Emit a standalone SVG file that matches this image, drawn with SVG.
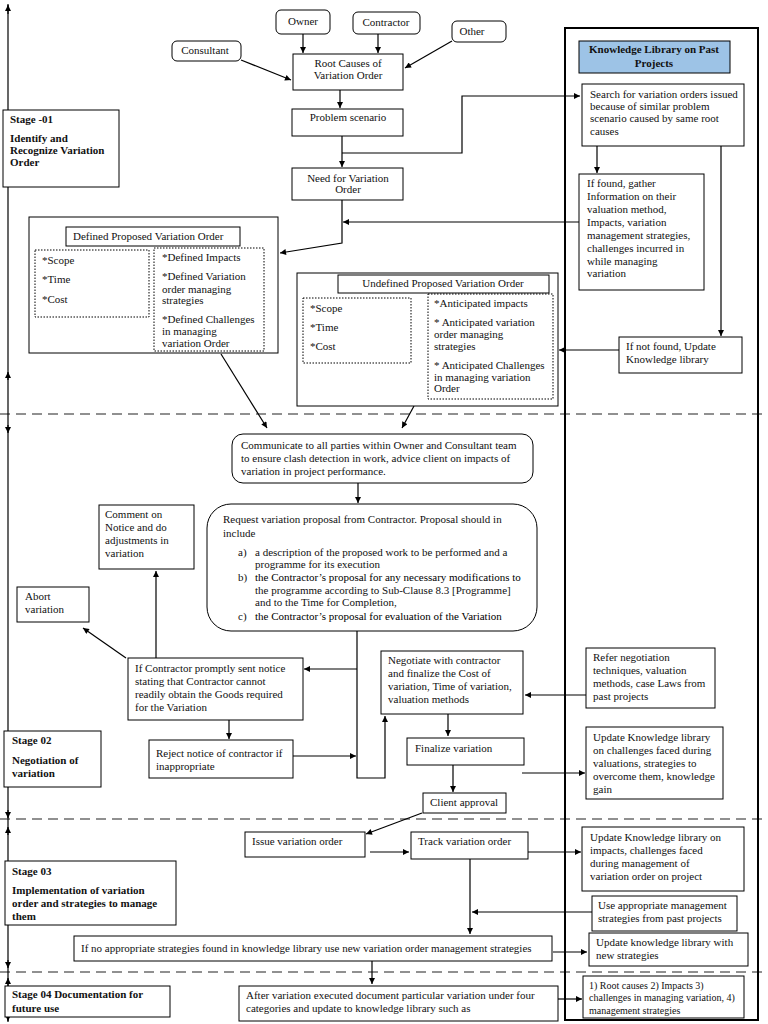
<svg xmlns="http://www.w3.org/2000/svg" width="768" height="1024" viewBox="0 0 768 1024">
<defs>
<style>
.t{font-family:"Liberation Serif","Times New Roman",serif;font-size:11px;fill:#111}
.b{font-weight:bold}
.c{text-anchor:middle}
.s{font-size:10px}
.box{fill:#fff;stroke:#000;stroke-width:1}
.dot{fill:none;stroke:#000;stroke-width:1;stroke-dasharray:1.5 1.5}
.ln{fill:none;stroke:#000;stroke-width:1.2}
.dash{fill:none;stroke:#222;stroke-width:1.2;stroke-dasharray:10 6}
</style>
<marker id="ah" viewBox="0 0 10 10" refX="10" refY="5" markerWidth="7" markerHeight="6" orient="auto" markerUnits="userSpaceOnUse">
<path d="M0,0 L10,5 L0,10 z" fill="#000"/>
</marker>
</defs>
<rect width="768" height="1024" fill="#fff"/>

<!-- stage separators -->
<g id="separators">
<line class="dash" x1="0" y1="414" x2="768" y2="414"/>
<line class="dash" x1="0" y1="819" x2="768" y2="819"/>
<line class="dash" x1="0" y1="972" x2="768" y2="972"/>
</g>

<!-- left stage line -->
<g id="stage-line">
<line class="ln" x1="8" y1="4" x2="8" y2="1022"/>
<line class="ln" x1="8" y1="14" x2="8" y2="5" marker-end="url(#ah)"/>
<line class="ln" x1="8" y1="380" x2="8" y2="372" marker-end="url(#ah)"/>
<line class="ln" x1="8" y1="425" x2="8" y2="433" marker-end="url(#ah)"/>
<line class="ln" x1="8" y1="810" x2="8" y2="818" marker-end="url(#ah)"/>
<line class="ln" x1="8" y1="835" x2="8" y2="827" marker-end="url(#ah)"/>
<line class="ln" x1="8" y1="960" x2="8" y2="968" marker-end="url(#ah)"/>
<line class="ln" x1="8" y1="986" x2="8" y2="978" marker-end="url(#ah)"/>
<line class="ln" x1="8" y1="1012" x2="8" y2="1021" marker-end="url(#ah)"/>
</g>

<!-- knowledge panel -->
<g id="knowledge-panel">
<rect x="565" y="28" width="193" height="992" fill="none" stroke="#000" stroke-width="2"/>
</g>
<g id="kl-header">
<rect x="579" y="41" width="151" height="32" fill="#9dc3e6" stroke="#000" stroke-width="1"/>
<text class="t b c" x="654" y="53">Knowledge Library on Past</text>
<text class="t b c" x="654" y="67">Projects</text>
</g>

<!-- connectors -->
<g id="connectors" class="ln">
<path d="M303,34 V53" marker-end="url(#ah)"/>
<path d="M378,34 V53" marker-end="url(#ah)"/>
<path d="M241,60 L291,80" marker-end="url(#ah)"/>
<path d="M452,41 L405,68" marker-end="url(#ah)"/>
<path d="M340,90 V108" marker-end="url(#ah)"/>
<path d="M342,136 V167" marker-end="url(#ah)"/>
<path d="M342,153 H462 V96 H580" marker-end="url(#ah)"/>
<path d="M597,146 V173" marker-end="url(#ah)"/>
<path d="M721,146 V336" marker-end="url(#ah)"/>
<path d="M579,222 H343" marker-end="url(#ah)"/>
<path d="M342,200 V243 L280,253" marker-end="url(#ah)"/>
<path d="M619,350 H559" marker-end="url(#ah)"/>
<path d="M221,354 L267,428" marker-end="url(#ah)"/>
<path d="M414,406 L402,428" marker-end="url(#ah)"/>
<path d="M358,483 V503" marker-end="url(#ah)"/>
<path d="M357,631 V778 H385 V716" marker-end="url(#ah)"/>
<path d="M357,669 H304" marker-end="url(#ah)"/>
<path d="M293,756 H356" marker-end="url(#ah)"/>
<path d="M156,658 V571" marker-end="url(#ah)"/>
<path d="M126,658 L83,628" marker-end="url(#ah)"/>
<path d="M229,720 V739" marker-end="url(#ah)"/>
<path d="M586,695 H525" marker-end="url(#ah)"/>
<path d="M448,714 V736" marker-end="url(#ah)"/>
<path d="M453,765 V792" marker-end="url(#ah)"/>
<path d="M522,773 H585" marker-end="url(#ah)"/>
<path d="M422,813 L366,834" marker-end="url(#ah)"/>
<path d="M370,852 H409" marker-end="url(#ah)"/>
<path d="M528,852 H581" marker-end="url(#ah)"/>
<path d="M470,859 V934" marker-end="url(#ah)"/>
<path d="M592,912 H472" marker-end="url(#ah)"/>
<path d="M553,952 H587" marker-end="url(#ah)"/>
<path d="M372,961 V984" marker-end="url(#ah)"/>
<path d="M558,999 H582" marker-end="url(#ah)"/>
</g>

<!-- Stage boxes -->
<g id="stage01">
<rect class="box" x="3" y="110" width="116" height="77"/>
<text class="t b" x="10" y="123">Stage -01</text>
<text class="t b" x="10" y="142">Identify and</text>
<text class="t b" x="10" y="154">Recognize Variation</text>
<text class="t b" x="10" y="166">Order</text>
</g>
<g id="stage02">
<rect class="box" x="4" y="731" width="97" height="56"/>
<text class="t b" x="12" y="744">Stage 02</text>
<text class="t b" x="12" y="764">Negotiation of</text>
<text class="t b" x="12" y="777">variation</text>
</g>
<g id="stage03">
<rect class="box" x="5" y="861" width="171" height="64"/>
<text class="t b" x="12" y="875">Stage 03</text>
<text class="t b" x="12" y="894">Implementation of variation</text>
<text class="t b" x="12" y="907">order and strategies to manage</text>
<text class="t b" x="12" y="920">them</text>
</g>
<g id="stage04">
<rect class="box" x="5" y="986" width="165" height="31"/>
<text class="t b" x="12" y="998">Stage 04 Documentation for</text>
<text class="t b" x="12" y="1012">future use</text>
</g>

<!-- Stage 1 nodes -->
<g id="owner">
<rect class="box" x="276" y="10" width="54" height="24" rx="5"/>
<text class="t c" x="303" y="25">Owner</text>
</g>
<g id="contractor">
<rect class="box" x="353" y="12" width="67" height="22" rx="5"/>
<text class="t c" x="386" y="26">Contractor</text>
</g>
<g id="other">
<rect class="box" x="452" y="21" width="54" height="21" rx="5"/>
<text class="t c" x="472" y="35">Other</text>
</g>
<g id="consultant">
<rect class="box" x="172" y="41" width="69" height="20" rx="5"/>
<text class="t c" x="205" y="54">Consultant</text>
</g>
<g id="root-causes">
<rect class="box" x="293" y="54" width="110" height="36"/>
<text class="t c" x="348" y="67">Root Causes of</text>
<text class="t c" x="348" y="79">Variation Order</text>
</g>
<g id="problem">
<rect class="box" x="292" y="109" width="111" height="27"/>
<text class="t c" x="348" y="121">Problem scenario</text>
</g>
<g id="need">
<rect class="box" x="292" y="168" width="111" height="32"/>
<text class="t c" x="348" y="182">Need for Variation</text>
<text class="t c" x="348" y="193">Order</text>
</g>

<g id="search">
<rect class="box" x="582" y="84" width="162" height="62"/>
<text class="t" x="590" y="98">Search for variation orders issued</text>
<text class="t" x="590" y="110">because of similar problem</text>
<text class="t" x="590" y="122">scenario caused by same root</text>
<text class="t" x="590" y="135">causes</text>
</g>
<g id="if-found">
<rect class="box" x="579" y="174" width="125" height="116"/>
<text class="t" x="587" y="187">If found, gather</text>
<text class="t" x="587" y="200">Information on their</text>
<text class="t" x="587" y="213">valuation method,</text>
<text class="t" x="587" y="226">Impacts, variation</text>
<text class="t" x="587" y="239">management strategies,</text>
<text class="t" x="587" y="252">challenges incurred in</text>
<text class="t" x="587" y="265">while managing</text>
<text class="t" x="587" y="277">variation</text>
</g>
<g id="if-not-found">
<rect class="box" x="619" y="337" width="123" height="36"/>
<text class="t" x="626" y="350">If not found, Update</text>
<text class="t" x="626" y="363">Knowledge library</text>
</g>

<g id="defined">
<rect class="box" x="29" y="217" width="249" height="136"/>
<rect class="box" x="66" y="227" width="174" height="19"/>
<text class="t" x="73" y="240">Defined Proposed Variation Order</text>
<rect class="dot" x="35" y="250" width="114" height="67"/>
<text class="t" x="42" y="264">*Scope</text>
<text class="t" x="42" y="283">*Time</text>
<text class="t" x="42" y="303">*Cost</text>
<rect class="dot" x="154" y="248" width="110" height="103"/>
<text class="t" x="162" y="261">*Defined Impacts</text>
<text class="t" x="162" y="280">*Defined Variation</text>
<text class="t" x="162" y="293">order managing</text>
<text class="t" x="162" y="304">strategies</text>
<text class="t" x="162" y="323">*Defined Challenges</text>
<text class="t" x="162" y="335">in managing</text>
<text class="t" x="162" y="347">variation Order</text>
</g>

<g id="undefined">
<rect class="box" x="297" y="273" width="261" height="133"/>
<rect class="box" x="338" y="275" width="211" height="18"/>
<text class="t c" x="443" y="287">Undefined Proposed Variation Order</text>
<rect class="dot" x="303" y="298" width="108" height="65"/>
<text class="t" x="310" y="312">*Scope</text>
<text class="t" x="310" y="331">*Time</text>
<text class="t" x="310" y="350">*Cost</text>
<rect class="dot" x="428" y="294" width="125" height="105"/>
<text class="t" x="434" y="307">*Anticipated impacts</text>
<text class="t" x="434" y="326">* Anticipated variation</text>
<text class="t" x="434" y="338">order managing</text>
<text class="t" x="434" y="350">strategies</text>
<text class="t" x="434" y="369">* Anticipated Challenges</text>
<text class="t" x="434" y="381">in managing variation</text>
<text class="t" x="434" y="392">Order</text>
</g>

<!-- Stage 2 nodes -->
<g id="communicate">
<rect class="box" x="232" y="434" width="301" height="49" rx="11"/>
<text class="t" x="241" y="449">Communicate to all parties within Owner and Consultant team</text>
<text class="t" x="241" y="462">to ensure clash detection in work, advice client on impacts of</text>
<text class="t" x="241" y="475">variation in project performance.</text>
</g>
<g id="request">
<rect class="box" x="207" y="504" width="330" height="127" rx="24"/>
<text class="t" x="223" y="523">Request variation proposal from Contractor. Proposal should in</text>
<text class="t" x="223" y="537">include</text>
<text class="t" x="238" y="556">a)</text>
<text class="t" x="255" y="556">a description of the proposed work to be performed and a</text>
<text class="t" x="255" y="568">programme for its execution</text>
<text class="t" x="238" y="581">b)</text>
<text class="t" x="255" y="581" style="fill:#000">the Contractor’s proposal for any necessary modifications to</text>
<text class="t" x="255" y="594">the programme according to Sub-Clause 8.3 [Programme]</text>
<text class="t" x="255" y="606">and to the Time for Completion,</text>
<text class="t" x="238" y="620">c)</text>
<text class="t" x="255" y="620" style="fill:#000">the Contractor’s proposal for evaluation of the Variation</text>
</g>
<g id="comment">
<rect class="box" x="99" y="505" width="95" height="64"/>
<text class="t" x="105" y="518">Comment on</text>
<text class="t" x="105" y="531">Notice and do</text>
<text class="t" x="105" y="544">adjustments in</text>
<text class="t" x="105" y="557">variation</text>
</g>
<g id="abort">
<rect class="box" x="17" y="587" width="72" height="35"/>
<text class="t" x="25" y="600">Abort</text>
<text class="t" x="25" y="613">variation</text>
</g>
<g id="if-contractor">
<rect class="box" x="128" y="658" width="175" height="62"/>
<text class="t" x="135" y="672">If Contractor promptly sent notice</text>
<text class="t" x="135" y="685">stating that Contractor cannot</text>
<text class="t" x="135" y="698">readily obtain the Goods required</text>
<text class="t" x="135" y="711">for the Variation</text>
</g>
<g id="reject">
<rect class="box" x="149" y="740" width="144" height="38"/>
<text class="t" x="156" y="757">Reject notice of contractor if</text>
<text class="t" x="156" y="770">inappropriate</text>
</g>
<g id="negotiate">
<rect class="box" x="381" y="651" width="142" height="63"/>
<text class="t" x="388" y="664">Negotiate with contractor</text>
<text class="t" x="388" y="677">and finalize the Cost of</text>
<text class="t" x="388" y="690">variation, Time of variation,</text>
<text class="t" x="388" y="703">valuation methods</text>
</g>
<g id="finalize">
<rect class="box" x="407" y="738" width="117" height="27"/>
<text class="t" x="415" y="752">Finalize variation</text>
</g>
<g id="client-approval">
<rect class="box" x="423" y="793" width="83" height="20"/>
<text class="t" x="430" y="806">Client approval</text>
</g>
<g id="refer">
<rect class="box" x="586" y="648" width="129" height="60"/>
<text class="t" x="593" y="661">Refer negotiation</text>
<text class="t" x="593" y="674">techniques, valuation</text>
<text class="t" x="593" y="687">methods, case Laws from</text>
<text class="t" x="593" y="700">past projects</text>
</g>
<g id="update-challenges">
<rect class="box" x="586" y="727" width="137" height="72"/>
<text class="t" x="593" y="741">Update Knowledge library</text>
<text class="t" x="593" y="754">on challenges faced during</text>
<text class="t" x="593" y="767">valuations, strategies to</text>
<text class="t" x="593" y="780">overcome them, knowledge</text>
<text class="t" x="593" y="793">gain</text>
</g>

<!-- Stage 3 nodes -->
<g id="issue">
<rect class="box" x="245" y="832" width="120" height="25"/>
<text class="t" x="252" y="845">Issue variation order</text>
</g>
<g id="track">
<rect class="box" x="411" y="832" width="117" height="27"/>
<text class="t" x="418" y="845">Track variation order</text>
</g>
<g id="update-impacts">
<rect class="box" x="582" y="827" width="162" height="64"/>
<text class="t" x="590" y="841">Update Knowledge library on</text>
<text class="t" x="590" y="854">impacts, challenges faced</text>
<text class="t" x="590" y="867">during management of</text>
<text class="t" x="590" y="880">variation order on project</text>
</g>
<g id="use-appropriate">
<rect class="box" x="592" y="896" width="145" height="35"/>
<text class="t" x="598" y="909">Use appropriate management</text>
<text class="t" x="598" y="922">strategies from past projects</text>
</g>
<g id="if-no-appropriate">
<rect class="box" x="74" y="936" width="478" height="25"/>
<text class="t" x="81" y="952">If no appropriate strategies found in knowledge library use new variation order management strategies</text>
</g>
<g id="update-new">
<rect class="box" x="589" y="933" width="159" height="33"/>
<text class="t" x="596" y="946">Update knowledge library with</text>
<text class="t" x="596" y="959">new strategies</text>
</g>

<!-- Stage 4 nodes -->
<g id="after-variation">
<rect class="box" x="239" y="986" width="319" height="35"/>
<text class="t" x="246" y="999">After variation executed document particular variation under four</text>
<text class="t" x="246" y="1012">categories and update to knowledge library such as</text>
</g>
<g id="categories">
<rect class="box" x="583" y="976" width="161" height="42"/>
<text class="t s" x="589" y="989">1) Root causes 2) Impacts 3)</text>
<text class="t s" x="589" y="1001">challenges in managing variation, 4)</text>
<text class="t s" x="589" y="1014">management strategies</text>
</g>
</svg>
